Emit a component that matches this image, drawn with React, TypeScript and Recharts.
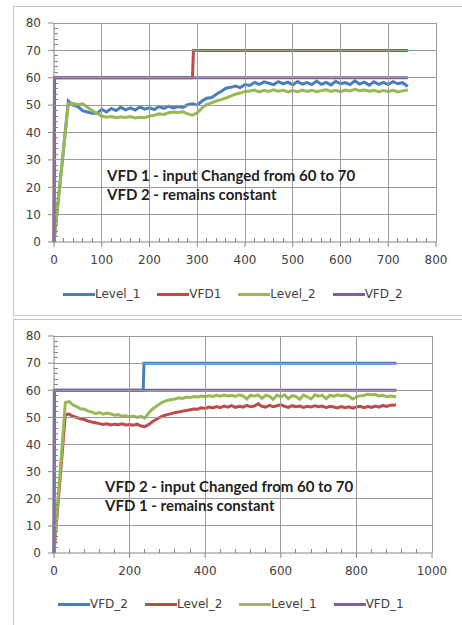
import React from 'react';
import { LineChart, Line, XAxis, YAxis, Legend } from 'recharts';

// ---------- Chart 1 data ----------
const c1X = [0,10,20,30,40,50,60,70,80,90,100,110,120,130,140,150,160,170,180,190,200,210,220,230,240,250,260,270,280,290,300,310,320,330,340,350,360,370,380,390,400,410,420,430,440,450,460,470,480,490,500,510,520,530,540,550,560,570,580,590,600,610,620,630,640,650,660,670,680,690,700,710,720,730,741];
const c1Level1 = [0,17,34,51.5,50,49.5,48,47.5,47,47,
  48.5,47.5,48.8,48,49.2,48.3,49,48.2,49.3,48.5,
  49,48.4,49.5,48.8,49.6,49,49.5,49.2,50.2,50.5,
  50,51.5,52.5,52.8,54,55,56.2,56.5,57,56.4,
  57.5,57.2,58.3,57.6,58.5,58,57.5,58.6,57.8,58.4,
  57.4,58.6,57.7,58.2,57.5,58.8,57.6,58.3,57.4,58.7,
  57.8,58.2,57.5,58.9,57.7,58.4,57.3,58.5,57.6,58.3,
  57.5,58.6,57.8,58.2,56.8];
const c1Level2 = [0,17,34,50.5,50.6,50.2,50.5,49.2,48,47,
  46,45.6,45.8,45.4,45.7,45.5,45.8,45.3,45.6,45.4,
  46,46.3,46.8,46.6,47.2,47.5,47.3,47.6,46.8,46.3,
  47.2,49,50.2,50.8,51.5,52,52.6,53.3,54,54.4,
  55,55.2,55.5,54.8,55.4,55,55.6,55.1,55.4,54.8,
  55.3,54.9,55.5,55,55.4,54.9,55.3,55.6,55,55.4,
  54.9,55.5,55.2,55.8,55.3,55.5,55.1,55.4,54.9,55.3,
  55,55.4,54.8,55.2,55.5];
const c1Vfd1X = [0,1,290,292,741];
const c1Vfd1Y = [0,60,60,70,70];
const c1Vfd2X = [0,1,741];
const c1Vfd2Y = [0,60,60];
const c1XTicks = [0,100,200,300,400,500,600,700,800];

// ---------- Chart 2 data ----------
const c2X = [0,10,20,30,40,50,60,70,80,90,100,110,120,130,140,150,160,170,180,190,200,210,220,230,240,250,260,270,280,290,300,310,320,330,340,350,360,370,380,390,400,410,420,430,440,450,460,470,480,490,500,510,520,530,540,550,560,570,580,590,600,610,620,630,640,650,660,670,680,690,700,710,720,730,740,750,760,770,780,790,800,810,820,830,840,850,860,870,880,890,905];
const c2Level1 = [0,19,37,55.5,55.8,54.6,54,53.2,53,52.3,
  52,51.4,51.8,51.2,51.6,51.3,50.8,51,50.4,50.6,
  50.2,50.5,50,50.4,49.7,51.5,53,54,55,55.8,
  56.2,56.6,56.8,57.2,57,57.5,57.3,57.7,57.5,57.9,
  57.6,58,57.7,58.1,57.8,58.2,57.9,58.1,57.7,58.3,
  57.9,56.8,58.2,57.8,58.3,57,58.1,57.8,56.6,58.2,
  57.6,58.3,56.9,58,57.7,56.7,58.2,57.6,56.8,58.3,
  57.8,58.1,56.9,58.2,57.7,58.3,57.9,58.2,57.8,56.8,
  57.5,58,58.1,58.5,58.3,58.4,57.9,58.1,57.6,57.9,
  57.6];
const c2Level2 = [0,17,34,51,51.2,50.4,50,49.5,49.2,48.6,
  48.3,48,47.7,47.4,47.6,47.2,47.5,47.3,47.6,47.2,
  47.4,47.1,47.5,46.8,46.6,47.3,48.4,49.2,50,50.6,
  51,51.4,51.8,52,52.3,52.5,52.8,53.1,53,53.5,
  53.3,53.8,53.5,54,53.6,54.2,53.8,54.3,53.7,54.1,
  53.8,54.4,53.9,54.2,55,54.1,53.8,54.4,53.9,54.3,
  54.6,54.1,53.7,54.3,53.9,54.2,53.7,54.1,53.8,54.3,
  53.9,54.2,53.6,54.1,53.8,53.5,54,53.6,53.9,53.4,
  53.8,54.1,53.6,54,53.7,54.2,53.8,54.4,54,54.5,
  54.6];
const c2Vfd2X = [0,1,236,238,906];
const c2Vfd2Y = [0,60,60,70,70];
const c2Vfd1X = [0,1,906];
const c2Vfd1Y = [0,60,60];
const c2XTicks = [0,200,400,600,800,1000];

const yTicks = [0,10,20,30,40,50,60,70,80];
const MINOR_DIVISIONS = 5;

const note1 = ['VFD 1 - input Changed from 60 to 70', 'VFD 2 - remains constant'];
const note2 = ['VFD 2 - input Changed from 60 to 70', 'VFD 1 - remains constant'];

const BLUE = '#4A7EBB';
const RED = '#BE4B48';
const GREEN = '#98B954';
const PURPLE = '#7D60A0';
const AXIS = '#868686';
const GRID = '#9a9a9a';
const LABEL = '#404040';
const FONT = '"DejaVu Sans", sans-serif';

type Col = { key: string; xs: number[]; ys: number[] };
function buildTable(cols: Col[]) {
  const rows = new Map<number, Record<string, number>>();
  cols.forEach((c) => {
    c.xs.forEach((x, i) => {
      const r = rows.get(x) || { x };
      r[c.key] = c.ys[i];
      rows.set(x, r);
    });
  });
  return Array.from(rows.values()).sort((a, b) => a.x - b.x);
}

type Series = { key: string; name: string; color: string };

const X_AXIS_H = 30;
const Y_AXIS_W = 54;
const LEGEND_H = 20;
const X_TICK_SIZE = 5;
const X_TICK_MARGIN = 8;
const Y_TICK_SIZE = 6;
const Y_TICK_MARGIN = 7;
const MINOR_LEN = 4;

// x-axis tick: label + minor ticks + vertical grid line
const makeXTick = (plotH: number) => (props: any) => {
  const { x, y, payload, index, visibleTicksCount, width } = props;
  const axisY = y - X_TICK_SIZE - X_TICK_MARGIN;
  const minors: number[] = [];
  if (typeof width === 'number' && index < visibleTicksCount - 1) {
    const step = width / (visibleTicksCount - 1) / MINOR_DIVISIONS;
    for (let k = 1; k < MINOR_DIVISIONS; k++) minors.push(x + k * step);
  }
  return (
    <g>
      {index > 0 && (
        <line x1={x} x2={x} y1={axisY} y2={axisY - plotH} stroke={GRID} strokeWidth={1} shapeRendering="crispEdges" />
      )}
      {minors.map((mx) => (
        <line key={mx} x1={mx} x2={mx} y1={axisY} y2={axisY - MINOR_LEN} stroke={AXIS} shapeRendering="crispEdges" />
      ))}
      <text x={x} y={y} dy="0.71em" textAnchor="middle" fill={LABEL} fontSize={12} fontFamily={FONT}>
        {payload.value}
      </text>
    </g>
  );
};

// y-axis tick: label + minor ticks + horizontal grid line
const makeYTick = (plotW: number) => (props: any) => {
  const { x, y, payload, index, visibleTicksCount, height } = props;
  const axisX = x + Y_TICK_SIZE + Y_TICK_MARGIN;
  const minors: number[] = [];
  if (typeof height === 'number' && index < visibleTicksCount - 1) {
    const step = height / (visibleTicksCount - 1) / MINOR_DIVISIONS;
    for (let k = 1; k < MINOR_DIVISIONS; k++) minors.push(y - k * step);
  }
  return (
    <g>
      {index > 0 && (
        <line x1={axisX} x2={axisX + plotW} y1={y} y2={y} stroke={GRID} strokeWidth={1} shapeRendering="crispEdges" />
      )}
      {minors.map((my) => (
        <line key={my} x1={axisX} x2={axisX + MINOR_LEN} y1={my} y2={my} stroke={AXIS} shapeRendering="crispEdges" />
      ))}
      <text x={x} y={y} dy="0.355em" textAnchor="end" fill={LABEL} fontSize={12} fontFamily={FONT}>
        {payload.value}
      </text>
    </g>
  );
};

function LegendBox({ items }: { items: Series[] }) {
  return (
    <div style={{ display: 'flex', alignItems: 'center', height: LEGEND_H, fontFamily: FONT, fontSize: 12, color: LABEL, whiteSpace: 'nowrap' }}>
      {items.map((it, i) => (
        <div key={it.name} style={{ display: 'flex', alignItems: 'center', marginLeft: i ? 17 : 0 }}>
          <div style={{ width: 32, height: 3, background: it.color }} />
          <span>{it.name}</span>
        </div>
      ))}
    </div>
  );
}

type ChartProps = {
  top: number;
  height: number;
  margin: { top: number; right: number; bottom: number; left: number };
  xMax: number;
  xTicks: number[];
  data: Record<string, number>[];
  series: Series[];
  legendLeft: number;
  legendTop: number;
  note: string[];
  noteLeft: number;
  noteTop: number;
};

const CHART_W = 462;

function Panel(p: ChartProps) {
  const plotW = CHART_W - p.margin.left - p.margin.right - Y_AXIS_W;
  const plotH = p.height - p.margin.top - p.margin.bottom - X_AXIS_H - LEGEND_H;
  const XTick = makeXTick(plotH);
  const YTick = makeYTick(plotW);
  return (
    <div style={{ position: 'absolute', left: 0, top: p.top, width: CHART_W, height: p.height }}>
      <LineChart width={CHART_W} height={p.height} margin={p.margin} data={p.data}>
        <XAxis type="number" dataKey="x" domain={[0, p.xMax]} ticks={p.xTicks} interval={0} height={X_AXIS_H}
          tickSize={X_TICK_SIZE} tickMargin={X_TICK_MARGIN} stroke={AXIS} tick={XTick} />
        <YAxis type="number" domain={[0, 80]} ticks={yTicks} interval={0} width={Y_AXIS_W}
          tickSize={Y_TICK_SIZE} tickMargin={Y_TICK_MARGIN} stroke={AXIS} tick={YTick} />
        {p.series.map((s) => (
          <Line key={s.key} dataKey={s.key} stroke={s.color} strokeWidth={3} dot={false}
            connectNulls isAnimationActive={false} />
        ))}
        <Legend verticalAlign="bottom" content={() => <LegendBox items={p.series} />}
          wrapperStyle={{ left: p.legendLeft, top: p.legendTop, width: 'auto', bottom: 'auto' }} />
      </LineChart>
      <div style={{ position: 'absolute', left: p.noteLeft, top: p.noteTop, fontFamily: 'Lato, sans-serif', fontWeight: 700, fontSize: 15, lineHeight: '19px', color: '#1f1f1f', whiteSpace: 'nowrap' }}>
        {p.note.map((t) => <div key={t}>{t}</div>)}
      </div>
    </div>
  );
}

export default function App() {
  const d1 = buildTable([
    { key: 'level1', xs: c1X, ys: c1Level1 },
    { key: 'vfd1', xs: c1Vfd1X, ys: c1Vfd1Y },
    { key: 'level2', xs: c1X, ys: c1Level2 },
    { key: 'vfd2', xs: c1Vfd2X, ys: c1Vfd2Y },
  ]);
  const s1: Series[] = [
    { key: 'level1', name: 'Level_1', color: BLUE },
    { key: 'vfd1', name: 'VFD1', color: RED },
    { key: 'level2', name: 'Level_2', color: GREEN },
    { key: 'vfd2', name: 'VFD_2', color: PURPLE },
  ];
  const d2 = buildTable([
    { key: 'vfd2', xs: c2Vfd2X, ys: c2Vfd2Y },
    { key: 'level2', xs: c2X, ys: c2Level2 },
    { key: 'level1', xs: c2X, ys: c2Level1 },
    { key: 'vfd1', xs: c2Vfd1X, ys: c2Vfd1Y },
  ]);
  const s2: Series[] = [
    { key: 'vfd2', name: 'VFD_2', color: BLUE },
    { key: 'level2', name: 'Level_2', color: RED },
    { key: 'level1', name: 'Level_1', color: GREEN },
    { key: 'vfd1', name: 'VFD_1', color: PURPLE },
  ];
  return (
    <div style={{ position: 'absolute', left: 0, top: 0, width: 462, height: 625, overflow: 'hidden', background: '#fff' }}>
      <div style={{ position: 'absolute', left: 13, top: 6, width: 470, height: 308, border: '1px solid #c4c4c4' }} />
      <div style={{ position: 'absolute', left: 13, top: 319, width: 470, height: 330, border: '1px solid #c4c4c4' }} />
      <Panel top={0} height={320} margin={{ top: 23, right: 26, bottom: 28, left: 0 }}
        xMax={800} xTicks={c1XTicks} data={d1} series={s1}
        legendLeft={63} legendTop={284} note={note1} noteLeft={107} noteTop={166} />
      <Panel top={310} height={315} margin={{ top: 26, right: 30, bottom: 22, left: 0 }}
        xMax={1000} xTicks={c2XTicks} data={d2} series={s2}
        legendLeft={58} legendTop={284} note={note2} noteLeft={105} noteTop={167} />
    </div>
  );
}
